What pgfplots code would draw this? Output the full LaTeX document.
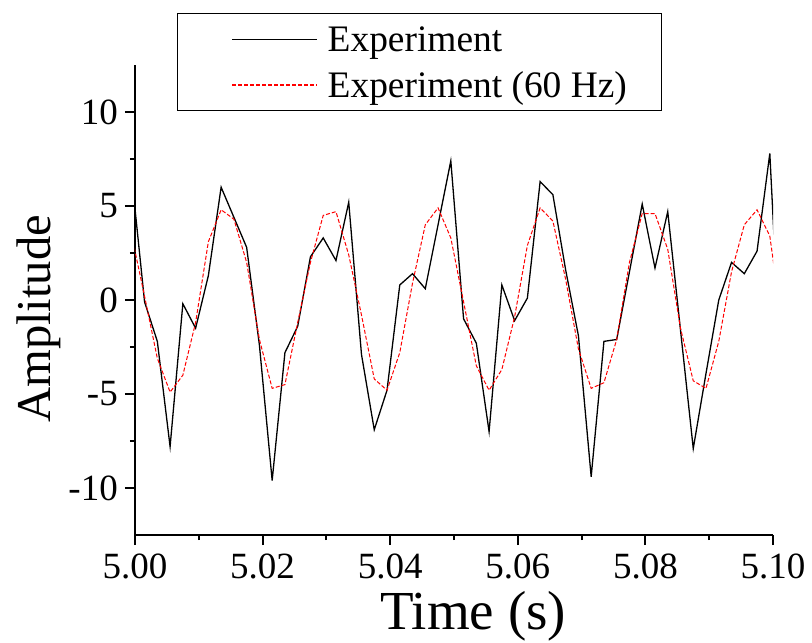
\documentclass[border=0pt]{standalone}
\usepackage{pgfplots}
\pgfplotsset{compat=1.18}
\usepackage{fontspec}
\setmainfont{Liberation Serif}

\begin{document}
\begin{tikzpicture}
\begin{axis}[
  scale only axis,
  width=319pt, height=235pt,
  xmin=5.0, xmax=5.1, ymin=-12.5, ymax=12.5,
  axis x line*=bottom, axis y line*=left,
  axis line style={line width=1.1pt, black},
  xtick={5.00,5.02,5.04,5.06,5.08,5.10},
  ytick={-10,-5,0,5,10},
  minor x tick num=1, minor y tick num=1,
  tick align=outside,
  major tick length=5pt, minor tick length=2.5pt,
  tick style={line width=1pt, black},
  scaled x ticks=false,
  /pgf/number format/assume math mode=true,
  ticklabel style={font=\fontsize{18.5pt}{22pt}\selectfont, inner sep=0pt},
  xticklabel style={/pgf/number format/fixed, /pgf/number format/fixed zerofill, /pgf/number format/precision=2, anchor=north, yshift=-4pt},
  yticklabel style={anchor=east, xshift=-3.4pt},
  xlabel={Time (s)},
  ylabel={Amplitude},
  xlabel style={at={(axis description cs:0.53,-0.2021)}, anchor=base, font=\fontsize{27.5pt}{32pt}\selectfont, inner sep=0pt},
  ylabel style={at={(axis description cs:-0.1332,0.46)}, anchor=base, font=\fontsize{24.3pt}{29pt}\selectfont, inner sep=0pt},
  legend style={
    at={(axis description cs:0.0658,1.111)}, anchor=north west,
    draw=black, line width=0.5pt, fill=white,
    inner xsep=17.4pt, inner ysep=5.2pt,
    font=\fontsize{18.7pt}{22pt}\selectfont,
    nodes={inner sep=0pt},
    row sep=7.4pt, column sep=5pt,
    cells={anchor=west},
  },
]
\addplot[black, line width=0.65pt, legend image code/.code={\path (-9.6pt,0pt); \draw[draw=black, line width=0.5pt] (0pt,0pt) -- (42.5pt,0pt);}] coordinates {
(4.9995,6.5) (5.0015,-0.1) (5.0035,-2.2) (5.0055,-7.8) (5.0075,-0.2)
(5.0095,-1.5) (5.0115,1.3) (5.0135,6.0) (5.0155,4.4) (5.0175,2.8)
(5.0195,-2.4) (5.0215,-9.6) (5.0235,-2.8) (5.0255,-1.4) (5.0275,2.3)
(5.0295,3.3) (5.0315,2.1) (5.0335,5.2) (5.0355,-2.9) (5.0375,-6.9)
(5.0395,-4.8) (5.0415,0.8) (5.0435,1.4) (5.0455,0.6) (5.0475,4.0)
(5.0495,7.4) (5.0515,-1.0) (5.0535,-2.3) (5.0555,-7.0) (5.0575,0.8)
(5.0595,-1.1) (5.0615,0.1) (5.0635,6.3) (5.0655,5.6) (5.0675,1.6)
(5.0695,-1.9) (5.0715,-9.4) (5.0735,-2.2) (5.0755,-2.1) (5.0775,1.5)
(5.0795,5.1) (5.0815,1.7) (5.0835,4.7) (5.0855,-1.6) (5.0875,-7.9)
(5.0895,-3.9) (5.0915,0.0) (5.0935,2.0) (5.0955,1.4) (5.0975,2.6)
(5.0995,7.8) (5.1015,-5.7)
};
\addlegendentry{\rule[-1.6pt]{0pt}{15.6pt}Experiment}
\addplot[red, line width=0.5pt, dash pattern=on 2pt off 1pt, legend image code/.code={\path (-9.6pt,0pt); \draw[draw=red, line width=0.6pt, dash pattern=on 2pt off 1pt] (0pt,0pt) -- (42.5pt,0pt);}] coordinates {
(4.9995,3.4) (5.0015,0.2) (5.0035,-3.1) (5.0055,-4.9) (5.0075,-4.0)
(5.0095,-1.2) (5.0115,3.1) (5.0135,4.8) (5.0155,4.3) (5.0175,2.0)
(5.0195,-2.1) (5.0215,-4.7) (5.0235,-4.5) (5.0255,-1.2) (5.0275,2.0)
(5.0295,4.5) (5.0315,4.7) (5.0335,2.4) (5.0355,-0.8) (5.0375,-4.2)
(5.0395,-4.8) (5.0415,-2.8) (5.0435,0.9) (5.0455,4.0) (5.0475,4.9)
(5.0495,3.3) (5.0515,-0.1) (5.0535,-3.5) (5.0555,-4.8) (5.0575,-3.7)
(5.0595,-0.9) (5.0615,2.9) (5.0635,4.9) (5.0655,4.2) (5.0675,1.1)
(5.0695,-2.6) (5.0715,-4.7) (5.0735,-4.4) (5.0755,-2.1) (5.0775,2.0)
(5.0795,4.6) (5.0815,4.6) (5.0835,2.7) (5.0855,-1.5) (5.0875,-4.3)
(5.0895,-4.7) (5.0915,-2.2) (5.0935,1.5) (5.0955,4.0) (5.0975,4.8)
(5.0995,3.4) (5.1015,-1.5)
};
\addlegendentry{\rule[-1.6pt]{0pt}{15.6pt}Experiment (60 Hz)}
\end{axis}
\pgfresetboundingbox
\path ([xshift=-67.5pt,yshift=-53.5pt]current axis.south west) rectangle ([xshift=19.5pt,yshift=32.5pt]current axis.north east);
\end{tikzpicture}
\end{document}
